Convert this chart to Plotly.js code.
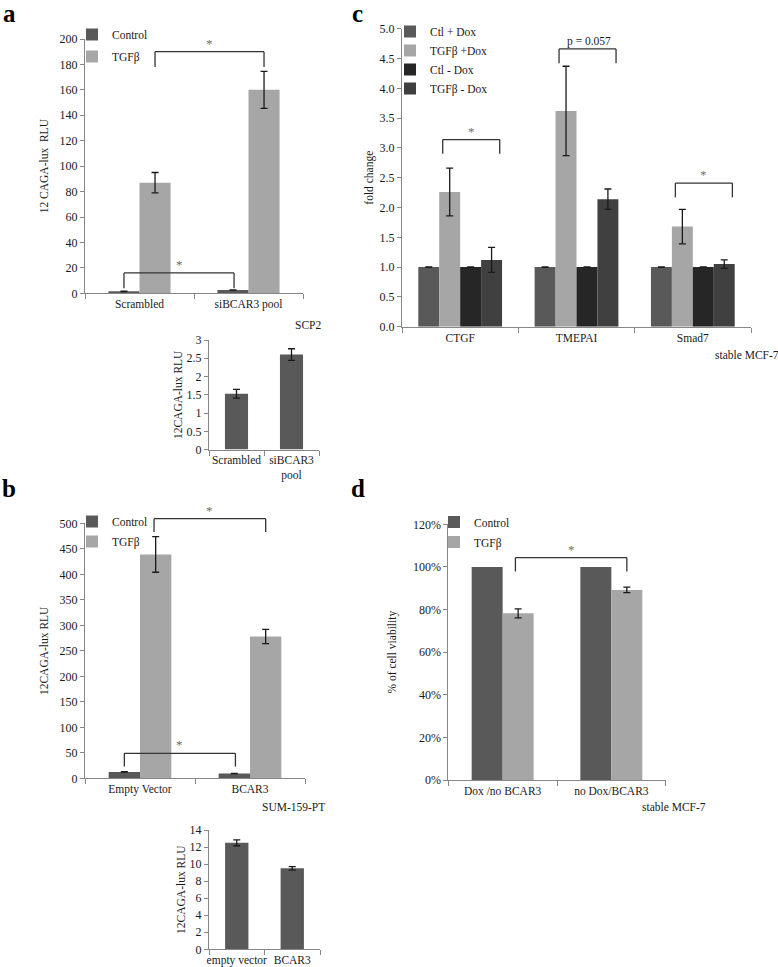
<!DOCTYPE html>
<html>
<head>
<meta charset="utf-8">
<script src="https://cdn.plot.ly/plotly-3.0.1.min.js"></script>
<style>
html,body{margin:0;padding:0;background:#ffffff;}
#chart{width:778px;height:967px;}
</style>
</head>
<body>
<div id="chart"></div>
<script>
// ---------------- data ----------------
// panel a (SCP2)
const aCategories = ['Scrambled', 'siBCAR3 pool'];
const aControl = [1.53, 2.6];
const aControlErr = [0.13, 0.16];
const aTgf = [87, 160];
const aTgfErr = [8, 14.5];
// panel a inset
const aInsetCategories = ['Scrambled', 'siBCAR3<br>pool'];
const aInsetValues = [1.53, 2.6];
const aInsetErr = [0.12, 0.16];
// panel c (stable MCF-7)
const cGenes = ['CTGF', 'TMEPAI', 'Smad7'];
const cCtlDox = [1.0, 1.0, 1.0];
const cCtlDoxErr = [0.005, 0.005, 0.005];
const cTgfDox = [2.26, 3.62, 1.68];
const cTgfDoxErr = [0.40, 0.75, 0.29];
const cCtlNoDox = [1.0, 1.0, 1.0];
const cCtlNoDoxErr = [0.005, 0.005, 0.005];
const cTgfNoDox = [1.12, 2.14, 1.05];
const cTgfNoDoxErr = [0.21, 0.17, 0.07];
// panel b (SUM-159-PT)
const bCategories = ['Empty Vector', 'BCAR3'];
const bControl = [12.5, 9.5];
const bControlErr = [0.4, 0.3];
const bTgf = [439, 278];
const bTgfErr = [35, 14];
// panel b inset
const bInsetCategories = ['empty vector', 'BCAR3'];
const bInsetValues = [12.5, 9.5];
const bInsetErr = [0.35, 0.2];
// panel d (stable MCF-7)
const dCategories = ['Dox /no BCAR3', 'no Dox/BCAR3'];
const dControl = [1.0, 1.0];
const dTgf = [0.782, 0.892];
const dTgfErr = [0.021, 0.013];

// ---------------- styling ----------------
const W = 778, H = 967;
const FONT = '"Liberation Serif", "Times New Roman", serif';
const TXT = '#1a1a1a';
const AX = '#878787';
const C_DARK = '#595959', C_LIGHT = '#a6a6a6', C_BLACK = '#262626', C_MID = '#404040';

function xd(p0, p1) { return [p0 / W, p1 / W]; }
function yd(top, bottom) { return [1 - bottom / H, 1 - top / H]; }

function xAxis(domain, anchor, n) {
  return {
    domain: domain, anchor: anchor, type: 'category', range: [-0.5, n - 0.5],
    showline: true, linecolor: AX, linewidth: 1, ticks: 'outside', tickson: 'boundaries',
    ticklen: 5, tickcolor: AX, showgrid: false, zeroline: false, fixedrange: true, tickangle: 0,
    tickfont: {family: FONT, size: 11.5, color: TXT}
  };
}
function yAxis(domain, anchor, range, dtick, title, standoff, fmt) {
  const a = {
    domain: domain, anchor: anchor, range: range, dtick: dtick, tick0: 0,
    showline: true, linecolor: AX, linewidth: 1, ticks: 'outside', ticklen: 4, tickcolor: AX,
    showgrid: false, zeroline: false, fixedrange: true,
    tickfont: {family: FONT, size: 12, color: TXT},
    title: {text: title, standoff: standoff, font: {family: FONT, size: 11.5, color: TXT}}
  };
  if (fmt) a.tickformat = fmt;
  return a;
}

// bar geometry per panel (gap between groups, number of series)
function geom(gap, n) { const w = (1 - gap) / n; return {w: w, off: k => -(1 - gap) / 2 + k * w}; }
const g2 = geom(0.43, 2), g4 = geom(0.28, 4), g1 = geom(0.58, 1);

function bar(x, y, err, color, name, xa, ya, g, k, legend, group, showlegend) {
  const t = {
    type: 'bar', x: x, y: y, name: name, xaxis: xa, yaxis: ya,
    width: g.w, offset: g.off(k), marker: {color: color, line: {width: 0}},
    showlegend: !!showlegend, hoverinfo: 'skip'
  };
  if (legend) { t.legend = legend; t.legendgroup = group; }
  if (err) t.error_y = {type: 'data', array: err, visible: true, color: TXT, thickness: 1.3, width: 3.5};
  return t;
}

const data = [
  // a
  bar(aCategories, aControl, aControlErr, C_DARK, 'Control', 'x', 'y', g2, 0, 'legend', 'a1', true),
  bar(aCategories, aTgf, aTgfErr, C_LIGHT, 'TGFβ', 'x', 'y', g2, 1, 'legend', 'a2', true),
  // a inset
  bar(aInsetCategories, aInsetValues, aInsetErr, C_DARK, 'SCP2', 'x2', 'y2', g1, 0),
  // c
  bar(cGenes, cCtlDox, cCtlDoxErr, C_DARK, 'Ctl + Dox', 'x3', 'y3', g4, 0, 'legend2', 'c1', true),
  bar(cGenes, cTgfDox, cTgfDoxErr, C_LIGHT, 'TGFβ +Dox', 'x3', 'y3', g4, 1, 'legend2', 'c2', true),
  bar(cGenes, cCtlNoDox, cCtlNoDoxErr, C_BLACK, 'Ctl - Dox', 'x3', 'y3', g4, 2, 'legend2', 'c3', true),
  bar(cGenes, cTgfNoDox, cTgfNoDoxErr, C_MID, 'TGFβ - Dox', 'x3', 'y3', g4, 3, 'legend2', 'c4', true),
  // b
  bar(bCategories, bControl, bControlErr, C_DARK, 'Control', 'x4', 'y4', g2, 0, 'legend3', 'b1', true),
  bar(bCategories, bTgf, bTgfErr, C_LIGHT, 'TGFβ', 'x4', 'y4', g2, 1, 'legend3', 'b2', true),
  // b inset
  bar(bInsetCategories, bInsetValues, bInsetErr, C_DARK, 'SUM-159-PT', 'x5', 'y5', g1, 0),
  // d
  bar(dCategories, dControl, null, C_DARK, 'Control', 'x6', 'y6', g2, 0, 'legend4', 'd1', true),
  bar(dCategories, dTgf, dTgfErr, C_LIGHT, 'TGFβ', 'x6', 'y6', g2, 1, 'legend4', 'd2', true)
];

// ---------------- annotations: brackets, stars, labels ----------------
const shapes = [];
const annotations = [];
function bracket(xa, ya, yMax, x1, x2, yTop, yLeg1, yLeg2, label, lx, lsize, lcolor) {
  const yr = ya + ' domain';
  const ln = {color: '#333333', width: 1.3};
  shapes.push({type: 'line', xref: xa, yref: yr, x0: x1, x1: x1, y0: yLeg1 / yMax, y1: yTop / yMax, line: ln});
  shapes.push({type: 'line', xref: xa, yref: yr, x0: x1, x1: x2, y0: yTop / yMax, y1: yTop / yMax, line: ln});
  shapes.push({type: 'line', xref: xa, yref: yr, x0: x2, x1: x2, y0: yTop / yMax, y1: yLeg2 / yMax, line: ln});
  annotations.push({xref: xa, yref: yr, x: lx !== undefined ? lx : (x1 + x2) / 2, y: yTop / yMax,
    text: label, showarrow: false, xanchor: 'center', yanchor: 'bottom', yshift: -1,
    font: {family: FONT, size: lsize || 13, color: lcolor || '#6e6e6e'}});
}
const ctr = (cat, g, k) => cat + g.off(k) + g.w / 2;
// a
bracket('x', 'y', 200, ctr(0, g2, 1), ctr(1, g2, 1), 190, 178, 178, '*');
bracket('x', 'y', 200, ctr(0, g2, 0), ctr(1, g2, 0) + 0.01, 16, 4, 4, '*');
// c
bracket('x3', 'y3', 5, 0 - 0.15, 0 + 0.34, 3.14, 2.90, 2.90, '*');
bracket('x3', 'y3', 5, 1 - 0.15, 1 + 0.34, 4.66, 4.42, 4.42, 'p = 0.057', 1 + 0.109, 11.5, TXT);
bracket('x3', 'y3', 5, 2 - 0.15, 2 + 0.34, 2.41, 2.17, 2.17, '*');
// b
bracket('x4', 'y4', 500, ctr(0, g2, 1) - 0.015, ctr(1, g2, 1), 509, 483, 483, '*');
bracket('x4', 'y4', 500, ctr(0, g2, 0), ctr(1, g2, 0) + 0.01, 49, 23, 23, '*');
// d
bracket('x6', 'y6', 1.2, ctr(0, g2, 1) - 0.025, ctr(1, g2, 1), 1.044, 0.978, 0.978, '*');

function txt(text, xPx, yPx, size, bold, xanchor) {
  annotations.push({xref: 'paper', yref: 'paper', x: xPx / W, y: 1 - yPx / H, text: bold ? '<b>' + text + '</b>' : text,
    showarrow: false, xanchor: xanchor || 'center', yanchor: 'middle',
    font: {family: FONT, size: size, color: bold ? '#000000' : TXT}});
}
txt('a', 9, 13, 25, true);
txt('b', 9, 488, 25, true);
txt('c', 357, 13, 25, true);
txt('d', 358, 488, 25, true);
txt('SCP2', 308, 325, 11.5);
txt('SUM-159-PT', 293, 807, 11.5);
txt('stable MCF-7', 747, 355, 11.5);
txt('stable MCF-7', 674, 807, 11.5);

function legend(textStartPx, topPx, gap) {
  return {x: (textStartPx - 40) / W, y: 1 - topPx / H, xanchor: 'left', yanchor: 'top',
    bgcolor: 'rgba(0,0,0,0)', borderwidth: 0, tracegroupgap: gap, traceorder: 'grouped',
    font: {family: FONT, size: 11.5, color: TXT}, itemclick: false, itemdoubleclick: false};
}

const layout = {
  width: W, height: H, margin: {l: 0, r: 0, t: 0, b: 0},
  paper_bgcolor: '#ffffff', plot_bgcolor: 'rgba(0,0,0,0)',
  font: {family: FONT, size: 11.5, color: TXT},
  barmode: 'overlay',
  showlegend: true,
  legend: legend(112, 20, 3),
  legend2: legend(430, 17, 0),
  legend3: legend(112, 507, 1),
  legend4: legend(474, 507.5, 1),
  xaxis: xAxis(xd(85, 303), 'y', 2),
  yaxis: yAxis(yd(39, 293.3), 'x', [0, 200], 20, '12 CAGA-lux  RLU', 8),
  xaxis2: xAxis(xd(209, 319), 'y2', 2),
  yaxis2: yAxis(yd(340, 449.6), 'x2', [0, 3], 0.5, '12CAGA-lux RLU', 1),
  xaxis3: xAxis(xd(402, 751), 'y3', 3),
  yaxis3: yAxis(yd(28.7, 326.7), 'x3', [0, 5], 0.5, 'fold change', 3, '.1f'),
  xaxis4: xAxis(xd(85, 305), 'y4', 2),
  yaxis4: yAxis(yd(523.3, 778.3), 'x4', [0, 500], 50, '12CAGA-lux RLU', 8),
  xaxis5: xAxis(xd(209, 320), 'y5', 2),
  yaxis5: yAxis(yd(830, 949.3), 'x5', [0, 14], 2, '12CAGA-lux RLU', 1),
  xaxis6: xAxis(xd(448.3, 665.7), 'y6', 2),
  yaxis6: yAxis(yd(524.3, 780), 'x6', [0, 1.2], 0.2, '% of cell viability', 13, '.0%'),
  shapes: shapes,
  annotations: annotations
};

Plotly.newPlot('chart', data, layout, {displayModeBar: false, staticPlot: true});
</script>
</body>
</html>
